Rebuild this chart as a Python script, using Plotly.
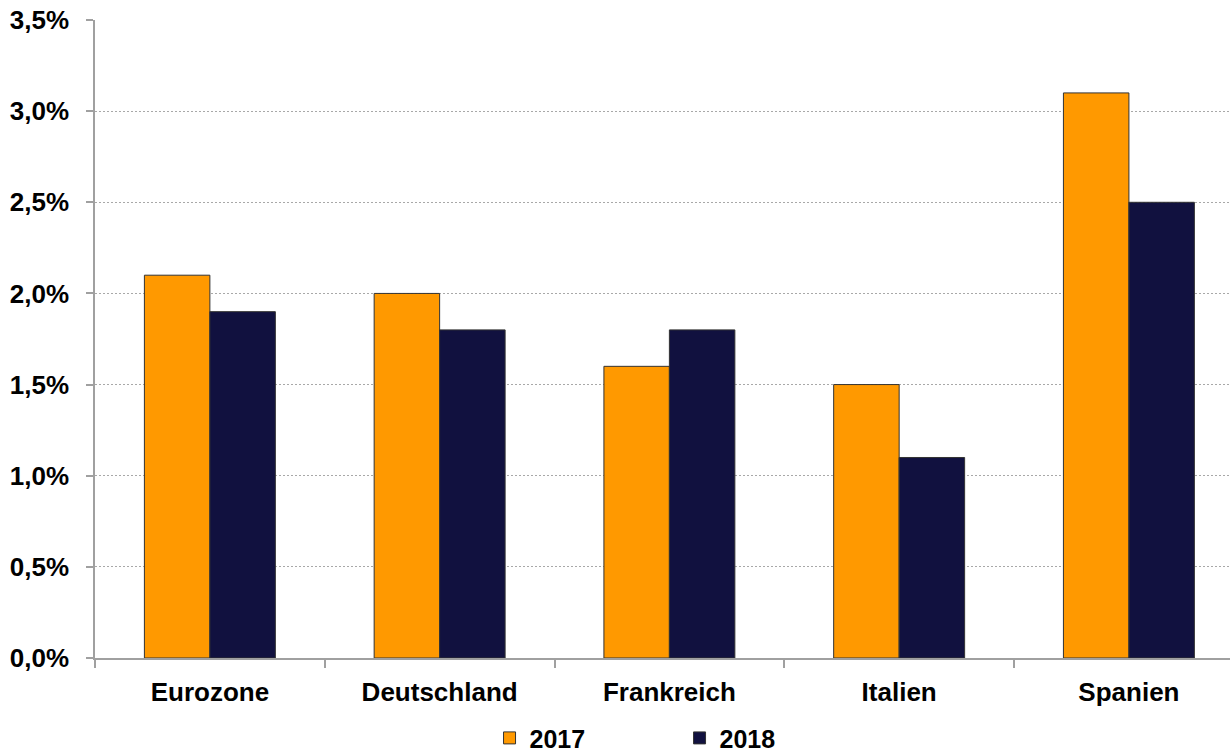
import plotly.graph_objects as go

categories = ["Eurozone", "Deutschland", "Frankreich", "Italien", "Spanien"]
values_2017 = [2.1, 2.0, 1.6, 1.5, 3.1]
values_2018 = [1.9, 1.8, 1.8, 1.1, 2.5]
y_ticks = [0, 0.5, 1.0, 1.5, 2.0, 2.5, 3.0, 3.5]
y_tick_labels = [f"{v:.1f}%".replace(".", ",") for v in y_ticks]

FAMILY = "Liberation Sans, Arial, sans-serif"
font_bold = dict(family=FAMILY, size=26, color="#000000", weight="bold")

fig = go.Figure()
fig.add_trace(go.Bar(
    name="2017", x=categories, y=values_2017,
    marker=dict(color="#FF9900", line=dict(color="#333333", width=1)),
))
fig.add_trace(go.Bar(
    name="2018", x=categories, y=values_2018,
    marker=dict(color="#11113F", line=dict(color="#333333", width=1)),
))

fig.update_layout(
    width=1230, height=752,
    margin=dict(l=95, r=0, t=20, b=94, autoexpand=False),
    paper_bgcolor="white", plot_bgcolor="white",
    barmode="group", bargap=0.43, bargroupgap=0,
    font=font_bold,
    showlegend=True,
    legend=dict(
        orientation="h", xref="container", yref="container",
        x=0.398, xanchor="left", y=0.049, yanchor="top",
        font=dict(family=FAMILY, size=25, color="#000000", weight="bold"),
        entrywidth=145, entrywidthmode="pixels",
        itemwidth=30, traceorder="normal",
    ),
    xaxis=dict(
        range=[-0.5, 4.44],
        showline=True, linecolor="#A0A0A0", linewidth=1.5,
        ticks="outside", tickson="boundaries", ticklen=8, tickcolor="#A0A0A0", tickwidth=1.5,
        tickfont=font_bold, showgrid=False, automargin=False, ticklabelstandoff=10,
    ),
    yaxis=dict(
        range=[0, 3.5], tickvals=y_ticks, ticktext=y_tick_labels,
        showline=True, linecolor="#A0A0A0", linewidth=1.5,
        ticks="outside", ticklen=7, tickcolor="#A0A0A0", tickwidth=1.5,
        showgrid=True, gridcolor="#A8A8A8", gridwidth=1, griddash="2px,2px",
        zeroline=False, tickfont=font_bold, automargin=False, ticklabelstandoff=12,
    ),
)

fig.write_html("out.html")
